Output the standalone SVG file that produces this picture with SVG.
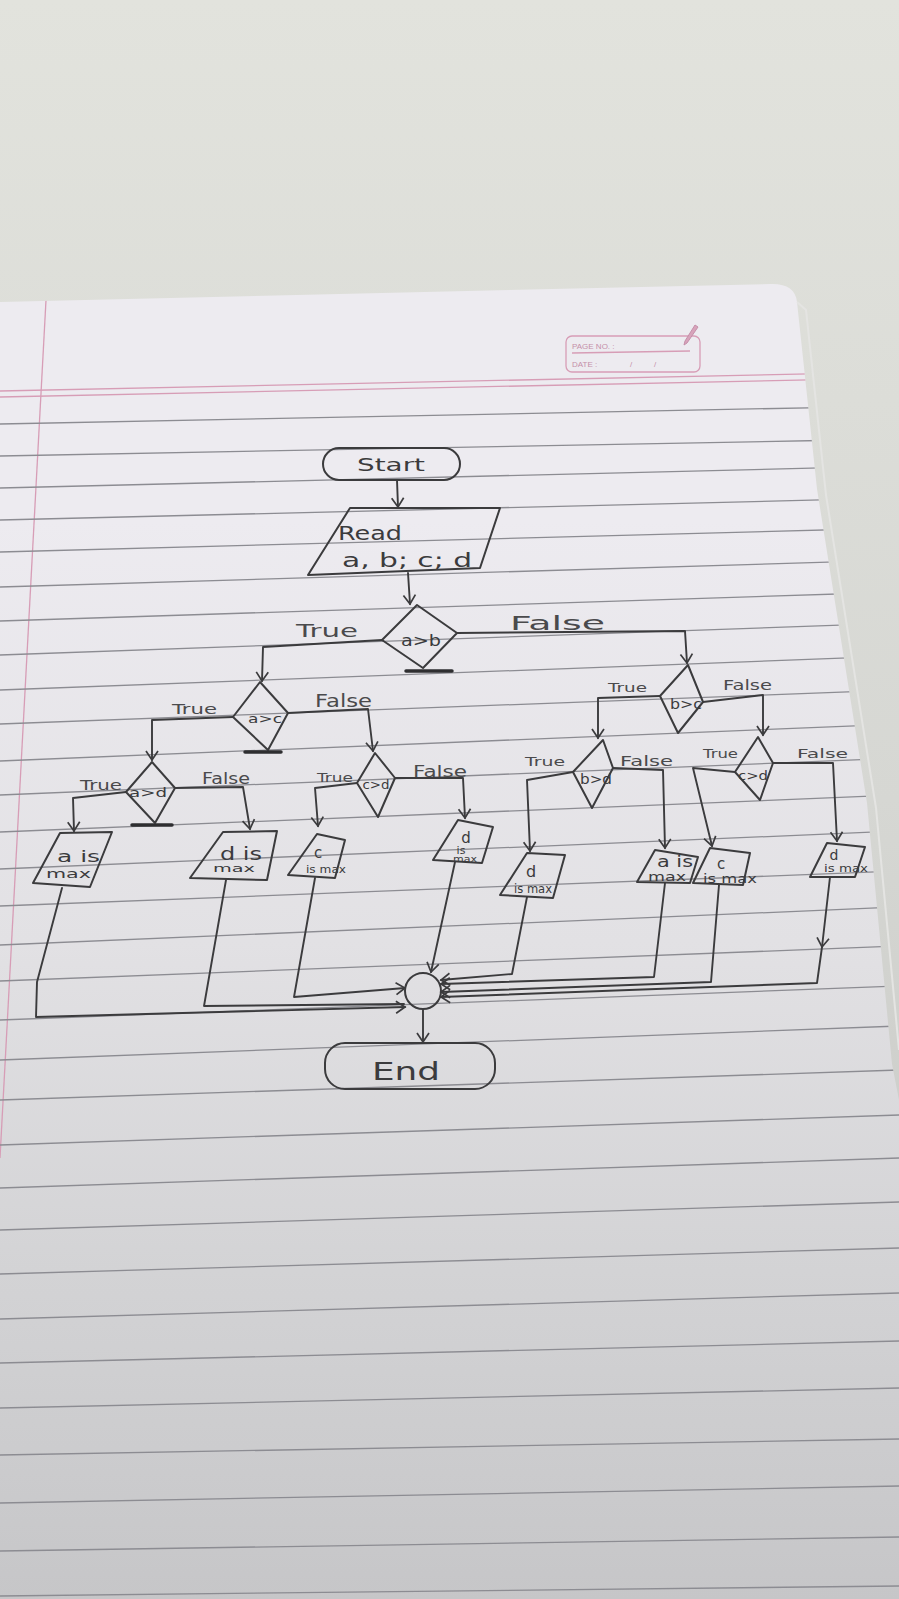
<svg xmlns="http://www.w3.org/2000/svg" width="899" height="1599" viewBox="0 0 899 1599">
<defs>
  <linearGradient id="bg" x1="0" y1="0" x2="0" y2="1">
    <stop offset="0" stop-color="#e2e3dd"/>
    <stop offset="0.5" stop-color="#d6d7d3"/>
    <stop offset="1" stop-color="#c2c3c0"/>
  </linearGradient>
  <linearGradient id="paper" x1="0" y1="0" x2="0" y2="1">
    <stop offset="0.18" stop-color="#edebf0"/>
    <stop offset="0.5" stop-color="#e2e1e4"/>
    <stop offset="0.75" stop-color="#d3d3d5"/>
    <stop offset="1" stop-color="#c6c6c8"/>
  </linearGradient>
  <clipPath id="pageClip">
    <path d="M0,302 L770,284 Q795,283 797,302 L817,489 L867,803 L892,1064 L899,1100 L899,1599 L0,1599 Z"/>
  </clipPath>
  <marker id="arr" viewBox="-11 -8 13 16" refX="0" refY="0" markerWidth="13" markerHeight="16" markerUnits="userSpaceOnUse" orient="auto">
    <path d="M-9,-6 L0,0 L-9,6" fill="none" stroke="#3b3b3d" stroke-width="1.7"/>
  </marker>
  <style>
    .ink{fill:none;stroke:#3b3b3d;stroke-width:2;stroke-linejoin:round;stroke-linecap:round}
    .bar{stroke:#2e2e30;stroke-width:3.5;stroke-linecap:round}
    .rule{stroke:#8c8c92;stroke-width:1.3}
    .pink{stroke:#d79db6;stroke-width:1.3;fill:none}
    .t{font-family:"DejaVu Sans","Liberation Sans",sans-serif;fill:#3b3b3d}
    .lbl{font-family:"DejaVu Sans","Liberation Sans",sans-serif;fill:#4a4a4c}
    .hdr{font-family:"Liberation Sans","DejaVu Sans",sans-serif;fill:#c58fa9;font-size:8px}
    .conn{fill:none;stroke:#3b3b3d;stroke-width:1.9;stroke-linejoin:round;stroke-linecap:round}
  </style>
</defs>

<!-- background and notebook page -->
<rect x="0" y="0" width="899" height="1599" fill="url(#bg)"/>
<path d="M0,302 L770,284 Q795,283 797,302 L817,489 L867,803 L892,1064 L899,1100 L899,1599 L0,1599 Z" fill="url(#paper)"/>
<path d="M797,302 L806,310 L826,495 L876,808 L899,1050" fill="none" stroke="#e4e4e2" stroke-width="2"/>
<g clip-path="url(#pageClip)">
  <line class="pink" x1="0" y1="391" x2="899" y2="372"/>
  <line class="pink" x1="0" y1="397" x2="899" y2="378"/>
  <line class="pink" x1="46" y1="300" x2="0" y2="1158"/>
  <g>
    <line class="rule" x1="0" y1="424" x2="899" y2="406"/>
    <line class="rule" x1="0" y1="456" x2="899" y2="439"/>
    <line class="rule" x1="0" y1="488" x2="899" y2="466"/>
    <line class="rule" x1="0" y1="520" x2="899" y2="498"/>
    <line class="rule" x1="0" y1="552" x2="899" y2="528"/>
    <line class="rule" x1="0" y1="587" x2="899" y2="560"/>
    <line class="rule" x1="0" y1="621" x2="899" y2="592"/>
    <line class="rule" x1="0" y1="655" x2="899" y2="623"/>
    <line class="rule" x1="0" y1="690" x2="899" y2="656"/>
    <line class="rule" x1="0" y1="724" x2="899" y2="690"/>
    <line class="rule" x1="0" y1="761" x2="899" y2="724"/>
    <line class="rule" x1="0" y1="795" x2="899" y2="758"/>
    <line class="rule" x1="0" y1="832" x2="899" y2="795"/>
    <line class="rule" x1="0" y1="869" x2="899" y2="831"/>
    <line class="rule" x1="0" y1="906" x2="899" y2="871"/>
    <line class="rule" x1="0" y1="945" x2="899" y2="907"/>
    <line class="rule" x1="0" y1="981" x2="899" y2="946"/>
    <line class="rule" x1="0" y1="1020" x2="899" y2="986"/>
    <line class="rule" x1="0" y1="1060" x2="899" y2="1026"/>
    <line class="rule" x1="0" y1="1100" x2="899" y2="1070"/>
    <line class="rule" x1="0" y1="1145" x2="899" y2="1115"/>
    <line class="rule" x1="0" y1="1188" x2="899" y2="1158"/>
    <line class="rule" x1="0" y1="1230" x2="899" y2="1202"/>
    <line class="rule" x1="0" y1="1274" x2="899" y2="1248"/>
    <line class="rule" x1="0" y1="1319" x2="899" y2="1293"/>
    <line class="rule" x1="0" y1="1363" x2="899" y2="1341"/>
    <line class="rule" x1="0" y1="1408" x2="899" y2="1388"/>
    <line class="rule" x1="0" y1="1455" x2="899" y2="1439"/>
    <line class="rule" x1="0" y1="1503" x2="899" y2="1486"/>
    <line class="rule" x1="0" y1="1551" x2="899" y2="1537"/>
    <line class="rule" x1="0" y1="1596" x2="899" y2="1586"/>
  </g>
</g>

<!-- page header box -->
<g id="page-header">
  <rect x="566" y="336" width="134" height="36" rx="6" class="pink"/>
  <line class="pink" x1="572" y1="353" x2="690" y2="351"/>
  <text class="hdr" x="572" y="349">PAGE NO. :</text>
  <text class="hdr" x="572" y="367">DATE :</text>
  <text class="hdr" x="630" y="367">/</text>
  <text class="hdr" x="654" y="367">/</text>
  <path d="M687,343 L684,345 L685,341 L695,325 L698,327 Z" fill="#d8a3bb" stroke="#c58fa9" stroke-width="1"/>
</g>

<!-- connectors -->
<g id="connectors">
  <path class="conn" d="M397,480 L398,507" marker-end="url(#arr)"/>
  <path class="conn" d="M408,573 L410,604" marker-end="url(#arr)"/>
  <path class="conn" d="M382,640 L263,647 L262,681" marker-end="url(#arr)"/>
  <path class="conn" d="M457,633 L685,631 L687,663" marker-end="url(#arr)"/>
  <path class="conn" d="M233,717 L152,720 L152,760" marker-end="url(#arr)"/>
  <path class="conn" d="M288,713 L368,709 L373,751" marker-end="url(#arr)"/>
  <path class="conn" d="M126,792 L73,798 L74,831" marker-end="url(#arr)"/>
  <path class="conn" d="M175,788 L243,787 L250,829" marker-end="url(#arr)"/>
  <path class="conn" d="M357,783 L315,788 L318,826" marker-end="url(#arr)"/>
  <path class="conn" d="M395,778 L463,778 L465,818" marker-end="url(#arr)"/>
  <path class="conn" d="M660,696 L598,698 L598,738" marker-end="url(#arr)"/>
  <path class="conn" d="M703,702 L763,695 L763,735" marker-end="url(#arr)"/>
  <path class="conn" d="M573,772 L527,780 L530,851" marker-end="url(#arr)"/>
  <path class="conn" d="M613,768 L663,770 L665,848" marker-end="url(#arr)"/>
  <path class="conn" d="M735,772 L693,768 L712,846" marker-end="url(#arr)"/>
  <path class="conn" d="M773,763 L833,763 L837,841" marker-end="url(#arr)"/>

  <path class="conn" d="M62,888 L37,982 L36,1017 L405,1007" marker-end="url(#arr)"/>
  <path class="conn" d="M226,880 L204,1006 L404,1004"/>
  <path class="conn" d="M315,878 L294,997 L405,988" marker-end="url(#arr)"/>
  <path class="conn" d="M455,862 L431,972" marker-end="url(#arr)"/>
  <path class="conn" d="M527,897 L512,974 L441,980" marker-end="url(#arr)"/>
  <path class="conn" d="M665,883 L654,977 L441,984" marker-end="url(#arr)"/>
  <path class="conn" d="M719,885 L711,982 L441,992" marker-end="url(#arr)"/>
  <path class="conn" d="M830,877 L822,947" marker-end="url(#arr)"/>
  <path class="conn" d="M822,947 L817,983 L441,997" marker-end="url(#arr)"/>
  <path class="conn" d="M423,1009 L423,1042" marker-end="url(#arr)"/>
</g>

<!-- edge labels -->
<g id="edge-labels">
  <text class="lbl" x="296" y="637" font-size="18" textLength="62" lengthAdjust="spacingAndGlyphs">True</text>
  <text class="lbl" x="510" y="630" font-size="20" textLength="95" lengthAdjust="spacingAndGlyphs">False</text>
  <text class="lbl" x="172" y="714" font-size="14" textLength="45" lengthAdjust="spacingAndGlyphs">True</text>
  <text class="lbl" x="315" y="707" font-size="17" textLength="57" lengthAdjust="spacingAndGlyphs">False</text>
  <text class="lbl" x="80" y="790" font-size="14" textLength="42" lengthAdjust="spacingAndGlyphs">True</text>
  <text class="lbl" x="202" y="784" font-size="15" textLength="48" lengthAdjust="spacingAndGlyphs">False</text>
  <text class="lbl" x="317" y="782" font-size="13" textLength="36" lengthAdjust="spacingAndGlyphs">True</text>
  <text class="lbl" x="413" y="777" font-size="15" textLength="54" lengthAdjust="spacingAndGlyphs">False</text>
  <text class="lbl" x="608" y="692" font-size="13" textLength="39" lengthAdjust="spacingAndGlyphs">True</text>
  <text class="lbl" x="723" y="690" font-size="14" textLength="49" lengthAdjust="spacingAndGlyphs">False</text>
  <text class="lbl" x="525" y="766" font-size="13" textLength="40" lengthAdjust="spacingAndGlyphs">True</text>
  <text class="lbl" x="620" y="766" font-size="14" textLength="53" lengthAdjust="spacingAndGlyphs">False</text>
  <text class="lbl" x="703" y="758" font-size="12" textLength="35" lengthAdjust="spacingAndGlyphs">True</text>
  <text class="lbl" x="797" y="758" font-size="13" textLength="51" lengthAdjust="spacingAndGlyphs">False</text>
</g>

<!-- nodes -->
<g id="start">
  <rect class="ink" x="323" y="448" width="137" height="32" rx="16"/>
  <text class="t" x="391" y="471" font-size="18" text-anchor="middle" textLength="68" lengthAdjust="spacingAndGlyphs">Start</text>
</g>
<g id="read">
  <polygon class="ink" points="350,508 500,508 480,568 308,575"/>
  <text class="t" x="338" y="540" font-size="19" textLength="64" lengthAdjust="spacingAndGlyphs">Read</text>
  <text class="t" x="342" y="567" font-size="19" textLength="130" lengthAdjust="spacingAndGlyphs">a, b; c; d</text>
</g>
<g id="dec-a-gt-b">
  <polygon class="ink" points="417,605 457,633 423,668 382,640"/>
  <text class="t" x="421" y="646" font-size="16" text-anchor="middle" textLength="40" lengthAdjust="spacingAndGlyphs">a&gt;b</text>
  <line class="bar" x1="406" y1="671" x2="452" y2="671"/>
</g>
<g id="dec-a-gt-c">
  <polygon class="ink" points="260,682 288,713 268,750 233,717"/>
  <text class="t" x="265" y="723" font-size="13" text-anchor="middle" textLength="34" lengthAdjust="spacingAndGlyphs">a&gt;c</text>
  <line class="bar" x1="245" y1="752" x2="281" y2="752"/>
</g>
<g id="dec-a-gt-d">
  <polygon class="ink" points="152,762 175,788 155,823 126,792"/>
  <text class="t" x="148" y="797" font-size="13" text-anchor="middle" textLength="38" lengthAdjust="spacingAndGlyphs">a&gt;d</text>
  <line class="bar" x1="132" y1="825" x2="172" y2="825"/>
</g>
<g id="dec-c-gt-d-left">
  <polygon class="ink" points="375,753 395,778 378,817 357,783"/>
  <text class="t" x="376" y="789" font-size="12" text-anchor="middle" textLength="27" lengthAdjust="spacingAndGlyphs">c&gt;d</text>
</g>
<g id="dec-b-gt-c">
  <polygon class="ink" points="688,665 703,702 678,733 660,696"/>
  <text class="t" x="686" y="709" font-size="14" text-anchor="middle" textLength="32" lengthAdjust="spacingAndGlyphs">b&gt;c</text>
</g>
<g id="dec-b-gt-d">
  <polygon class="ink" points="603,740 613,768 592,808 573,772"/>
  <text class="t" x="596" y="784" font-size="14" text-anchor="middle" textLength="32" lengthAdjust="spacingAndGlyphs">b&gt;d</text>
</g>
<g id="dec-c-gt-d-right">
  <polygon class="ink" points="758,737 773,763 760,800 735,772"/>
  <text class="t" x="753" y="780" font-size="13" text-anchor="middle" textLength="30" lengthAdjust="spacingAndGlyphs">c&gt;d</text>
</g>

<g id="out-a-max-1">
  <polygon class="ink" points="60,833 112,832 90,887 33,883"/>
  <text class="t" x="57" y="862" font-size="16" textLength="43" lengthAdjust="spacingAndGlyphs">a is</text>
  <text class="t" x="46" y="878" font-size="13" textLength="45" lengthAdjust="spacingAndGlyphs">max</text>
</g>
<g id="out-d-max-1">
  <polygon class="ink" points="223,832 277,831 267,880 190,878"/>
  <text class="t" x="220" y="860" font-size="18" textLength="42" lengthAdjust="spacingAndGlyphs">d is</text>
  <text class="t" x="213" y="872" font-size="11" textLength="42" lengthAdjust="spacingAndGlyphs">max</text>
</g>
<g id="out-c-max-1">
  <polygon class="ink" points="317,834 345,840 335,878 288,875"/>
  <text class="t" x="318" y="858" font-size="15" text-anchor="middle">c</text>
  <text class="t" x="306" y="873" font-size="11" textLength="40" lengthAdjust="spacingAndGlyphs">is max</text>
</g>
<g id="out-d-max-2">
  <polygon class="ink" points="458,820 493,827 482,863 433,860"/>
  <text class="t" x="466" y="843" font-size="15" text-anchor="middle">d</text>
  <text class="t" x="461" y="854" font-size="11" text-anchor="middle">is</text>
  <text class="t" x="453" y="862" font-size="8" textLength="24" lengthAdjust="spacingAndGlyphs">max</text>
</g>
<g id="out-d-max-3">
  <polygon class="ink" points="527,853 565,855 553,898 500,895"/>
  <text class="t" x="531" y="877" font-size="16" text-anchor="middle">d</text>
  <text class="t" x="514" y="893" font-size="12" textLength="38" lengthAdjust="spacingAndGlyphs">is max</text>
</g>
<g id="out-a-max-2">
  <polygon class="ink" points="655,850 698,857 690,883 637,882"/>
  <text class="t" x="657" y="867" font-size="15" textLength="36" lengthAdjust="spacingAndGlyphs">a is</text>
  <text class="t" x="648" y="881" font-size="12" textLength="38" lengthAdjust="spacingAndGlyphs">max</text>
</g>
<g id="out-c-max-2">
  <polygon class="ink" points="710,848 750,853 743,885 693,883"/>
  <text class="t" x="721" y="869" font-size="15" text-anchor="middle">c</text>
  <text class="t" x="703" y="883" font-size="12" textLength="54" lengthAdjust="spacingAndGlyphs">is max</text>
</g>
<g id="out-d-max-4">
  <polygon class="ink" points="827,843 865,847 855,877 810,877"/>
  <text class="t" x="834" y="860" font-size="14" text-anchor="middle">d</text>
  <text class="t" x="824" y="872" font-size="11" textLength="44" lengthAdjust="spacingAndGlyphs">is max</text>
</g>

<g id="connector-circle">
  <circle class="ink" cx="423" cy="991" r="18"/>
</g>
<g id="end">
  <rect class="ink" x="325" y="1043" width="170" height="46" rx="20"/>
  <text class="t" x="406" y="1080" font-size="24" text-anchor="middle" textLength="68" lengthAdjust="spacingAndGlyphs">End</text>
</g>
</svg>
